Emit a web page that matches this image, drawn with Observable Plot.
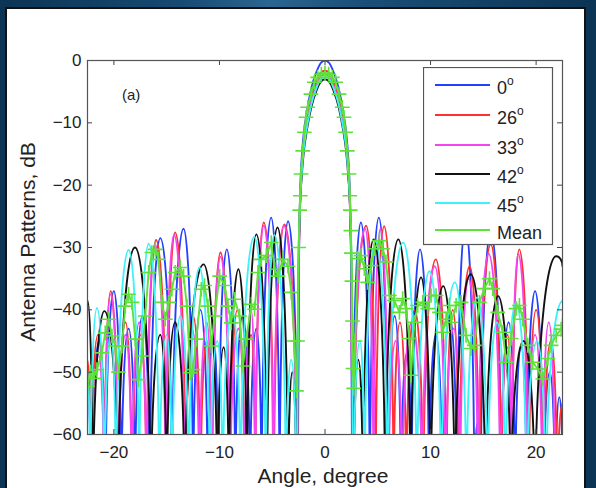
<!DOCTYPE html>
<html><head><meta charset="utf-8">
<script src="https://cdn.jsdelivr.net/npm/d3@7"></script>
<script src="https://cdn.jsdelivr.net/npm/@observablehq/plot@0.6"></script>
<style>
html,body{margin:0;padding:0;}
body{width:596px;height:488px;overflow:hidden;background:#0c3454;position:relative;font-family:"Liberation Sans",Arial,sans-serif;}
#band{position:absolute;left:0;top:0;width:596px;height:9px;background:linear-gradient(90deg,#0c3454 0%,#164a72 30%,#2b6690 45%,#1a5079 60%,#0c3454 100%);}
#panel{position:absolute;left:5px;top:7px;width:581px;height:490px;background:#fff;border:2px solid #111;box-sizing:border-box;}
#chart{position:absolute;left:0;top:0;}
.lab{position:absolute;color:#222;white-space:nowrap;}
#ylab{left:28px;top:242px;transform:translate(-50%,-50%) rotate(-90deg);font-size:21px;}
#xlab{left:323px;top:476px;transform:translate(-50%,-50%);font-size:21px;}
#tag{left:122px;top:86px;font-size:15px;}
#legend{position:absolute;left:423px;top:67px;}
</style></head>
<body>
<div id="band"></div>
<div id="panel"></div>
<div id="chart"></div>
<div class="lab" id="ylab">Antenna Patterns, dB</div>
<div class="lab" id="xlab">Angle, degree</div>
<div class="lab" id="tag">(a)</div>
<div id="legend"></div>
<script>
// ---- data (angle in degrees, pattern in dB) ----
const xTicks = [-20, -10, 0, 10, 20];
const yTicks = [-60, -50, -40, -30, -20, -10, 0];
const seriesNames = ["0", "26", "33", "42", "45"];
const seriesColors = ["#2340ff", "#ff3030", "#f545f0", "#111111", "#3ef2fa"];
const meanColor = "#5ee23a";

// side-lobe peaks and nulls (nulls fall below the -60 dB floor)
const side0 = [[-22.5,-52],[-22.1,-75],[-21.4,-45],[-20.8,-75],[-20.0,-37],[-19.3,-75],[-18.6,-43],[-18.0,-75],[-17.3,-41],[-16.6,-75],[-15.6,-28.5],[-14.5,-75],[-13.4,-27.0],[-12.5,-75],[-11.8,-40],[-11.1,-75],[-10.6,-44],[-10.1,-75],[-9.3,-30.3],[-8.5,-75],[-7.8,-41],[-7.1,-75],[-6.5,-43],[-6.0,-75],[-5.1,-25.2],[-4.3,-75],[-3.5,-25.8],[-2.6,-75],
  [2.6,-75],[3.4,-26],[4.25,-75],[5.1,-25.2],[5.95,-75],[6.6,-41],[7.2,-75],[7.75,-47],[8.2,-75],[9.0,-30.3],[9.85,-75],[10.5,-44],[11.1,-75],[11.8,-41],[12.5,-75],[13.3,-26.5],[14.15,-75],[14.45,-58],[14.75,-75],[15.7,-27.5],[16.7,-75],[17.4,-42],[18.0,-75],[18.6,-46],[19.1,-75],[19.9,-37],[20.7,-75],[21.3,-50],[21.8,-75],[22.2,-54],[22.5,-68]];
const side26 = [[-22.5,-48],[-22.2,-75],[-21.5,-44],[-20.9,-75],[-20.3,-37],[-19.6,-75],[-18.9,-42],[-18.3,-75],[-17.5,-44],[-16.9,-75],[-16.0,-28.8],[-15.0,-75],[-14.2,-27.6],[-13.2,-75],[-12.5,-41],[-11.8,-75],[-11.2,-45],[-10.7,-75],[-9.9,-30.8],[-9.0,-75],[-8.3,-40],[-7.6,-75],[-7.0,-44],[-6.6,-75],[-5.8,-26.0],[-4.85,-75],[-3.85,-26.3],[-2.65,-75],
  [2.65,-75],[3.9,-26.5],[4.8,-75],[5.6,-26.6],[6.5,-75],[7.1,-42],[7.7,-75],[8.5,-40],[9.3,-75],[10.5,-31.9],[11.5,-75],[12.1,-40],[12.7,-75],[13.7,-33],[14.6,-75],[15.7,-29.5],[16.7,-75],[17.3,-44],[17.7,-75],[18.4,-30.3],[19.3,-75],[20.0,-40],[20.7,-75],[21.4,-45],[22.0,-75],[22.5,-55]];
const side33 = [[-22.5,-55],[-22.1,-75],[-21.5,-47],[-20.9,-75],[-20.3,-37.5],[-19.6,-75],[-18.9,-44],[-18.3,-75],[-17.6,-42],[-16.9,-75],[-16.1,-29.5],[-15.1,-75],[-14.3,-28],[-13.3,-75],[-12.6,-43],[-11.9,-75],[-11.2,-42],[-10.7,-75],[-9.9,-31.5],[-9.0,-75],[-8.2,-43],[-7.6,-75],[-7.0,-40],[-6.6,-75],[-5.8,-26.5],[-4.9,-75],[-3.9,-26.5],[-2.65,-75],
  [2.65,-75],[3.8,-27],[4.6,-75],[5.25,-27],[6.0,-75],[6.7,-45],[7.3,-75],[8.2,-42],[9.2,-75],[10.4,-33],[11.4,-75],[12.2,-43],[12.8,-75],[13.6,-35],[14.5,-75],[15.5,-31],[16.6,-75],[17.3,-46],[17.7,-75],[18.3,-31],[19.2,-75],[19.9,-44],[20.6,-75],[21.2,-42],[21.8,-75],[22.5,-60]];
const side42 = [[-22.5,-38.5],[-22.0,-75],[-20.9,-40.2],[-19.6,-75],[-18.0,-30.0],[-16.5,-75],[-15.6,-44],[-15.0,-75],[-14.2,-42],[-13.3,-75],[-11.5,-32.7],[-10.2,-75],[-9.6,-46],[-9.1,-75],[-8.2,-33.5],[-7.4,-75],[-6.5,-27.9],[-5.5,-75],[-4.5,-26.8],[-3.5,-75],[-3.1,-50],[-2.7,-75],
  [2.7,-75],[3.15,-48],[3.6,-75],[4.6,-28.7],[5.7,-75],[6.95,-28.7],[8.1,-75],[9.1,-34.8],[10.0,-75],[11.2,-36.2],[12.3,-75],[13.8,-34.3],[15.2,-75],[16.4,-37.8],[17.6,-75],[18.8,-45],[19.9,-75],[21.9,-31.4],[22.5,-33]];
const side45 = [[-22.5,-50],[-22.25,-75],[-21.6,-39.7],[-20.9,-75],[-20.3,-44],[-19.8,-75],[-18.6,-30.4],[-17.6,-75],[-16.7,-29.4],[-15.7,-75],[-15.0,-44],[-14.5,-75],[-13.7,-41],[-12.9,-75],[-11.9,-33.2],[-10.9,-75],[-10.2,-45],[-9.7,-75],[-8.8,-40],[-8.0,-75],[-6.7,-28.3],[-5.6,-75],[-4.8,-28],[-3.7,-75],[-3.2,-48],[-2.7,-75],
  [2.7,-75],[3.3,-45],[3.75,-75],[4.8,-29],[5.9,-75],[7.4,-29.2],[8.7,-75],[9.9,-33.8],[11.0,-75],[12.3,-35.6],[13.4,-75],[14.4,-38],[15.4,-75],[16.3,-42],[17.1,-75],[18.1,-38.8],[19.1,-75],[20.1,-45],[20.9,-75],[22.5,-38.6]];

// main lobes
const main0 = [[-2.6,-75],[-2.45,-30],[-2.35,-21],[-2.2,-15.5],[-2.0,-11.5],[-1.7,-8],[-1.3,-4.5],[-0.8,-1.8],[-0.4,-0.4],[0,0],[0.4,-0.4],[0.8,-1.8],[1.3,-4.5],[1.7,-8],[2.0,-11.5],[2.2,-15.5],[2.35,-21],[2.45,-30],[2.6,-75]];
const main26 = [[-2.65,-75],[-2.48,-32],[-2.36,-23],[-2.2,-17],[-2.0,-13],[-1.7,-9.6],[-1.3,-6.1],[-0.8,-3.4],[-0.4,-2.0],[0,-1.6],[0.4,-2.0],[0.8,-3.4],[1.3,-6.1],[1.7,-9.6],[2.0,-13],[2.2,-17],[2.36,-23],[2.48,-32],[2.65,-75]];
const main33 = [[-2.65,-75],[-2.47,-32],[-2.36,-23.5],[-2.2,-17.7],[-2.0,-13.7],[-1.7,-10.2],[-1.3,-6.7],[-0.8,-4.0],[-0.4,-2.6],[0,-2.2],[0.4,-2.6],[0.8,-4.0],[1.3,-6.7],[1.7,-10.2],[2.0,-13.7],[2.2,-17.7],[2.36,-23.5],[2.47,-32],[2.65,-75]];
const main42 = [[-2.7,-75],[-2.5,-33],[-2.38,-24],[-2.2,-18.5],[-2.0,-14.5],[-1.7,-11],[-1.3,-7.5],[-0.8,-4.8],[-0.4,-3.4],[0,-3.0],[0.4,-3.4],[0.8,-4.8],[1.3,-7.5],[1.7,-11],[2.0,-14.5],[2.2,-18.5],[2.38,-24],[2.5,-33],[2.7,-75]];
const main45 = [[-2.7,-75],[-2.5,-32],[-2.38,-23.5],[-2.2,-18],[-2.0,-14],[-1.7,-10.6],[-1.3,-7.1],[-0.8,-4.4],[-0.4,-3.0],[0,-2.6],[0.4,-3.0],[0.8,-4.4],[1.3,-7.1],[1.7,-10.6],[2.0,-14],[2.2,-18],[2.38,-23.5],[2.5,-32],[2.7,-75]];

// mean pattern
const meanPattern = [[-22.5,-52.3],[-22.24,-50],[-21.93,-51],[-21.61,-49.6],[-21.14,-46.9],[-20.82,-43.7],[-20.5,-41.5],[-20.19,-44.2],[-19.87,-45.8],[-19.56,-50],[-19.24,-45.8],[-18.92,-39.4],[-18.61,-37.5],[-18.29,-38.8],[-17.98,-44.7],[-17.66,-51.2],[-17.35,-47.4],[-17.03,-41],[-16.71,-34],[-16.4,-30.8],[-16.08,-30.3],[-15.77,-31.9],[-15.45,-38.8],[-15.13,-41.5],[-14.82,-38.8],[-14.5,-36.7],[-14.19,-34],[-13.71,-33.2],[-13.4,-34.6],[-13.08,-39.4],[-12.77,-50.1],[-12.51,-49.6],[-12.2,-44.7],[-11.72,-36.7],[-11.41,-36.1],[-11.09,-39.4],[-10.77,-45.8],[-10.46,-41],[-9.98,-34.6],[-9.51,-36.1],[-9.19,-39.4],[-8.88,-42.1],[-8.56,-38.3],[-8.09,-41],[-7.77,-49],[-7.46,-44.7],[-6.98,-39.1],[-6.67,-39.9],[-6.35,-34],[-6.03,-31.9],[-5.56,-31.3],[-5.09,-29.2],[-4.77,-33.5],[-4.45,-34.6],[-3.98,-31.9],[-3.51,-33],[-3.19,-37.2],[-2.9,-45],[-2.7,-53],[-2.6,-45],[-2.5,-30],[-2.4,-24],[-2.34,-21.7],[-2.27,-18.2],[-2.11,-14.5],[-1.96,-11.5],[-1.8,-9.1],[-1.64,-7.5],[-1.33,-5.4],[-1.01,-3.5],[-0.7,-2.7],[-0.35,-2.2],[0,-2.0],[0.35,-2.2],[0.7,-2.7],[1.01,-3.5],[1.33,-5.4],[1.64,-7.5],[1.8,-9.1],[1.96,-11.5],[2.11,-14.5],[2.27,-18.2],[2.35,-21.7],[2.4,-24],[2.45,-27.3],[2.5,-30.9],[2.55,-35.4],[2.6,-41.8],[2.65,-49.4],[2.72,-52.6],[2.85,-45],[3.1,-31.8],[3.41,-31.3],[3.73,-33.4],[4.04,-35.6],[4.36,-32.9],[4.68,-30.2],[5.15,-28.9],[5.47,-30.2],[5.78,-32.3],[6.1,-37.7],[6.57,-38.5],[7.05,-40.4],[7.36,-38.2],[7.68,-39.8],[7.99,-44.6],[8.15,-50.5],[8.47,-42],[8.78,-39.3],[9.26,-38.8],[9.73,-39.8],[10.05,-37.7],[10.52,-37.7],[10.84,-40.4],[11.15,-43.6],[11.47,-41.5],[11.79,-39.3],[11.94,-42],[12.42,-39.3],[12.89,-38.8],[13.36,-44.1],[13.84,-46.2],[14.15,-45.7],[14.63,-38.8],[15.1,-36.6],[15.58,-35],[15.89,-36.6],[16.37,-40.4],[16.84,-43.6],[17.16,-48.4],[17.63,-44.6],[18.1,-39.8],[18.42,-39.3],[18.74,-41.5],[19.21,-45.7],[19.68,-48.4],[20.16,-49.5],[20.63,-51.1],[21.11,-47.8],[21.42,-45.7],[21.9,-44.1],[22.37,-43.1],[22.5,-42.5]];

// ---- build tables ----
const sides = [side0, side26, side33, side42, side45];
const mains = [main0, main26, main33, main42, main45];
const sideRows = [], mainRows = [];
sides.forEach((arr, i) => arr.forEach(([a, v]) => sideRows.push({angle: a, db: v, s: i, key: i + (a < 0 ? "L" : "R")})));
mains.forEach((arr, i) => arr.forEach(([a, v]) => mainRows.push({angle: a, db: v, s: i})));
const meanRows = meanPattern.map(([a, v]) => ({angle: a, db: v}));

// lobe-shaped curve: rounded crests, steep nulls
function lobeCurve(context) {
  let x0, y0, n = 0;
  const k = 0.5523;
  return {
    areaStart() {}, areaEnd() {},
    lineStart() { n = 0; },
    lineEnd() {},
    point(x, y) {
      x = +x; y = +y;
      if (n === 0) context.moveTo(x, y);
      else if (y < y0) context.bezierCurveTo(x0, y0 + k * (y - y0), x - k * (x - x0), y, x, y);
      else context.bezierCurveTo(x0 + k * (x - x0), y0, x, y - k * (y - y0), x, y);
      x0 = x; y0 = y; n++;
    }
  };
}

const plotH = 488 - 60 - 54, plotW = 596 - 87 - 34;
const marks = [];
for (let i = 0; i < 5; i++) {
  marks.push(Plot.line(sideRows.filter(d => d.s === i), {x: "angle", y: "db", z: "key", stroke: seriesColors[i], strokeWidth: 1.9, curve: lobeCurve, clip: true}));
  marks.push(Plot.line(mainRows.filter(d => d.s === i), {x: "angle", y: "db", stroke: seriesColors[i], strokeWidth: 1.9, curve: "monotone-x", clip: true}));
}
marks.push(Plot.line(meanRows, {x: "angle", y: "db", stroke: meanColor, strokeWidth: 1.9, clip: true}));
marks.push(Plot.dot(meanRows, {x: "angle", y: "db", symbol: "plus", r: 4.8, stroke: meanColor, strokeWidth: 1.6, clip: true}));
marks.push(Plot.ruleX(xTicks, {insetTop: plotH - 5, stroke: "#444"}));
marks.push(Plot.ruleX(xTicks, {insetBottom: plotH - 5, stroke: "#444"}));
marks.push(Plot.ruleY(yTicks, {insetRight: plotW - 5, stroke: "#444"}));
marks.push(Plot.ruleY(yTicks, {insetLeft: plotW - 5, stroke: "#444"}));
marks.push(Plot.frame({stroke: "#555", strokeWidth: 1.2}));

const chart = Plot.plot({
  width: 596, height: 488,
  marginLeft: 87, marginRight: 34, marginTop: 60, marginBottom: 54,
  style: {background: "transparent", fontFamily: "'Liberation Sans', Arial, sans-serif", fontSize: "17px", color: "#222"},
  x: {domain: [-22.5, 22.5], ticks: xTicks, tickSize: 0, tickPadding: 11, label: null},
  y: {domain: [-60, 0], ticks: yTicks, tickSize: 0, tickPadding: 6, label: null},
  marks
});
document.getElementById("chart").appendChild(chart);

// ---- legend ----
const legendLabels = [...seriesNames, "Mean"];
const legendColors = [...seriesColors, meanColor];
const rowY = [18, 48, 78, 107, 136, 163];
const ns = "http://www.w3.org/2000/svg";
const lg = document.createElementNS(ns, "svg");
lg.setAttribute("width", 131); lg.setAttribute("height", 179);
lg.style.fontFamily = "'Liberation Sans', Arial, sans-serif";
const box = document.createElementNS(ns, "rect");
box.setAttribute("x", 0.5); box.setAttribute("y", 0.5); box.setAttribute("width", 129); box.setAttribute("height", 177);
box.setAttribute("fill", "#fff"); box.setAttribute("stroke", "#555"); box.setAttribute("stroke-width", 1.2);
lg.appendChild(box);
legendLabels.forEach((lab, i) => {
  const ln = document.createElementNS(ns, "line");
  ln.setAttribute("x1", 12); ln.setAttribute("x2", 67);
  ln.setAttribute("y1", rowY[i]); ln.setAttribute("y2", rowY[i]);
  ln.setAttribute("stroke", legendColors[i]); ln.setAttribute("stroke-width", 1.9);
  lg.appendChild(ln);
  const t = document.createElementNS(ns, "text");
  t.setAttribute("x", 74); t.setAttribute("y", rowY[i] + 9);
  t.setAttribute("font-size", 18); t.setAttribute("fill", "#222");
  t.appendChild(document.createTextNode(lab));
  if (i < seriesNames.length) {
    const sup = document.createElementNS(ns, "tspan");
    sup.setAttribute("font-size", 12); sup.setAttribute("dy", -9);
    sup.textContent = "o";
    t.appendChild(sup);
  }
  lg.appendChild(t);
});
document.getElementById("legend").appendChild(lg);
</script>
</body></html>
